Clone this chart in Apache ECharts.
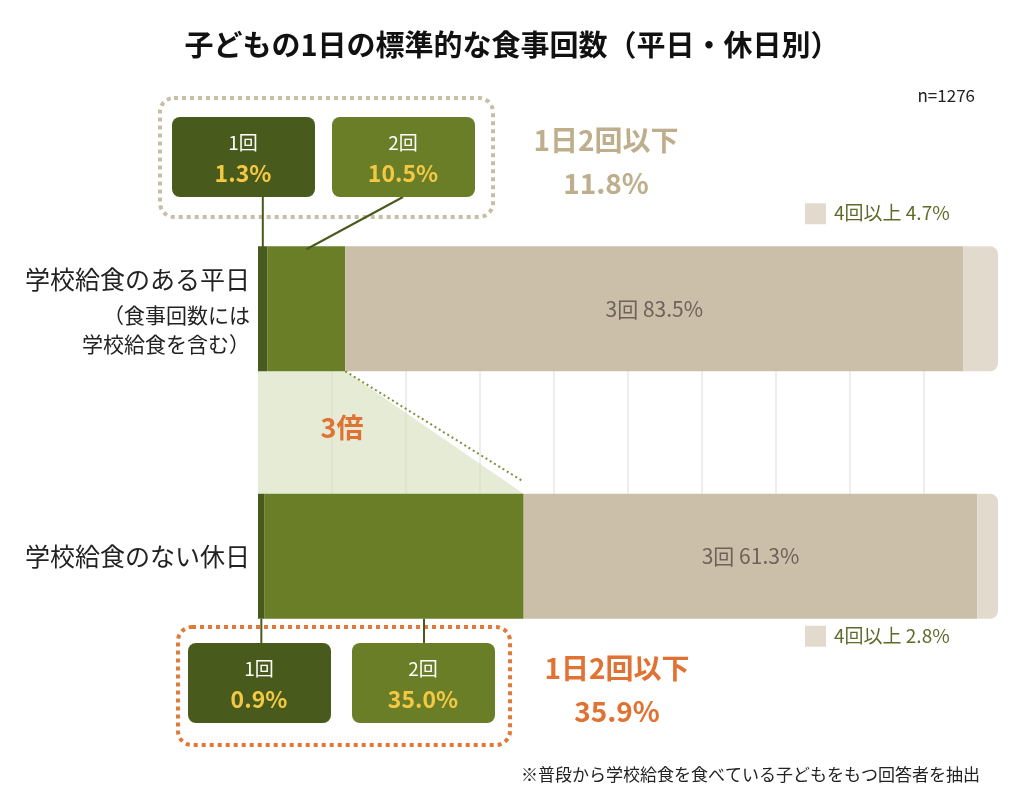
<!DOCTYPE html>
<html><head><meta charset="utf-8">
<script src="https://cdn.jsdelivr.net/npm/echarts@6/dist/echarts.min.js"></script>
<style>body{margin:0}#c{width:1024px;height:805px}</style></head>
<body><div id="c"></div>
<script>
const categories = ['学校給食のある平日', '学校給食のない休日'];
const once = [1.3, 0.9];
const twice = [10.5, 35.0];
const thrice = [83.5, 61.3];
const fourPlus = [4.7, 2.8];
const seriesNames = ['1回', '2回', '3回', '4回以上'];
const colors = ['#485a1c', '#6a7e28', '#cbbfa9', '#e2dacd'];
const FONT = '"Noto Sans CJK JP", "Noto Sans", sans-serif';

const chart = echarts.init(document.getElementById('c'));
const dataSets = [once, twice, thrice, fourPlus];

chart.setOption({
  animation: false,
  textStyle: { fontFamily: FONT },
  grid: { left: 258, right: 26, top: 185, bottom: 125 },
  xAxis: { type: 'value', min: 0, max: 100, show: false },
  yAxis: {
    type: 'category', inverse: true, data: categories,
    axisLine: { show: false }, axisTick: { show: false },
    axisLabel: {
      margin: 8, align: 'right',
      formatter: (v, i) => i === 0 ? '{a|' + v + '}\n{b|（食事回数には}\n{b|学校給食を含む）}' : '{a|' + v + '}',
      rich: {
        a: { fontSize: 25, color: '#222', lineHeight: 42, fontFamily: FONT },
        b: { fontSize: 21, color: '#222', lineHeight: 29, fontFamily: FONT }
      }
    }
  },
  series: dataSets.map((d, k) => ({
    name: seriesNames[k], type: 'bar', stack: 'all', barWidth: 125,
    data: d,
    itemStyle: { color: colors[k], borderRadius: k === 3 ? [0, 8, 8, 0] : 0 },
    label: k === 2 ? { show: true, formatter: p => '3回 ' + p.value.toFixed(1) + '%', color: '#6e6358', fontSize: 21, fontFamily: FONT } : { show: false }
  }))
});

const px = v => chart.convertToPixel({ xAxisIndex: 0 }, v);
const cy = i => chart.convertToPixel({ yAxisIndex: 0 }, i);
const half = 62.5;
const top1 = cy(0) - half, bot1 = cy(0) + half, top2 = cy(1) - half, bot2 = cy(1) + half;
const g = [];

// gridlines between bars
for (let v = 10; v < 100; v += 10) {
  g.push({ type: 'line', shape: { x1: px(v), y1: bot1, x2: px(v), y2: top2 }, style: { stroke: '#dcdcdc', lineWidth: 1 }, z: 1 });
}
// 3x trapezoid
const e1 = px(once[0] + twice[0]), e2 = px(once[1] + twice[1]);
g.push({ type: 'polygon', shape: { points: [[px(0), bot1], [e1, bot1], [e2, top2], [px(0), top2]] }, style: { fill: 'rgba(214,222,186,0.6)' }, z: 2 });
g.push({ type: 'line', shape: { x1: e1, y1: bot1, x2: e2, y2: top2 - 12 }, style: { stroke: '#7f8f3a', lineWidth: 2, lineDash: [2, 3] }, z: 3 });
g.push({ type: 'text', x: 342, y: 428, style: { text: '3倍', fill: '#e07233', font: 'bold 27px ' + FONT, textAlign: 'center', textVerticalAlign: 'middle' }, z: 3 });

function box(x, y, label, val) {
  g.push({ type: 'rect', shape: { x: x, y: y, width: 143, height: 80, r: 8 }, style: { fill: label === '1回' ? colors[0] : colors[1] }, z: 5 });
  g.push({ type: 'text', x: x + 71, y: y + 26, style: { text: label, fill: '#fff', font: '19px ' + FONT, textAlign: 'center', textVerticalAlign: 'middle' }, z: 6 });
  g.push({ type: 'text', x: x + 71, y: y + 56, style: { text: val.toFixed(1) + '%', fill: '#f4c843', font: 'bold 23px ' + FONT, textAlign: 'center', textVerticalAlign: 'middle' }, z: 6 });
}
function conn(x1, y1, x2, y2) {
  g.push({ type: 'line', shape: { x1, y1, x2, y2 }, style: { stroke: colors[0], lineWidth: 2 }, z: 4 });
}
// top callout
g.push({ type: 'rect', shape: { x: 160, y: 98, width: 333, height: 119, r: 14 }, style: { fill: 'none', stroke: '#c9bda6', lineWidth: 4, lineDash: [4, 4] }, z: 4 });
box(172, 117, '1回', once[0]);
box(332, 117, '2回', twice[0]);
conn(px(once[0] / 2), 197, px(once[0] / 2), top1 + 3);
conn(403, 197, px(once[0] + twice[0] / 2), top1 + 3);
g.push({ type: 'text', x: 606, y: 162, style: { text: '1日2回以下\n' + (once[0] + twice[0]).toFixed(1) + '%', fill: '#bfae8c', font: 'bold 28px ' + FONT, lineHeight: 43, textAlign: 'center', textVerticalAlign: 'middle' }, z: 4 });
// bottom callout
g.push({ type: 'rect', shape: { x: 178, y: 627, width: 332, height: 118, r: 14 }, style: { fill: 'none', stroke: '#e07a3a', lineWidth: 4, lineDash: [4, 4] }, z: 4 });
box(188, 643, '1回', once[1]);
box(352, 643, '2回', twice[1]);
conn(px(once[1] / 2), bot2, px(once[1] / 2), 643);
conn(424, bot2, 424, 643);
g.push({ type: 'text', x: 617, y: 690, style: { text: '1日2回以下\n' + (once[1] + twice[1]).toFixed(1) + '%', fill: '#e07233', font: 'bold 28px ' + FONT, lineHeight: 43, textAlign: 'center', textVerticalAlign: 'middle' }, z: 4 });
// 4+ legends
[[top1 - 33, fourPlus[0]], [bot2 + 17, fourPlus[1]]].forEach(([y, v]) => {
  g.push({ type: 'rect', shape: { x: 805, y: y - 10, width: 21, height: 21 }, style: { fill: colors[3] } });
  g.push({ type: 'text', x: 834, y: y, style: { text: '4回以上 ' + v.toFixed(1) + '%', fill: '#5e6b2b', font: '19px ' + FONT, textVerticalAlign: 'middle' } });
});
// title etc
g.push({ type: 'text', x: 512, y: 45, style: { text: '子どもの1日の標準的な食事回数（平日・休日別）', fill: '#111', font: 'bold 29px ' + FONT, textAlign: 'center', textVerticalAlign: 'middle' } });
g.push({ type: 'text', x: 975, y: 96, style: { text: 'n=1276', fill: '#222', font: '17px ' + FONT, textAlign: 'right', textVerticalAlign: 'middle' } });
g.push({ type: 'text', x: 980, y: 775, style: { text: '※普段から学校給食を食べている子どもをもつ回答者を抽出', fill: '#222', font: '17px ' + FONT, textAlign: 'right', textVerticalAlign: 'middle' } });

chart.setOption({ graphic: g });
</script></body></html>
